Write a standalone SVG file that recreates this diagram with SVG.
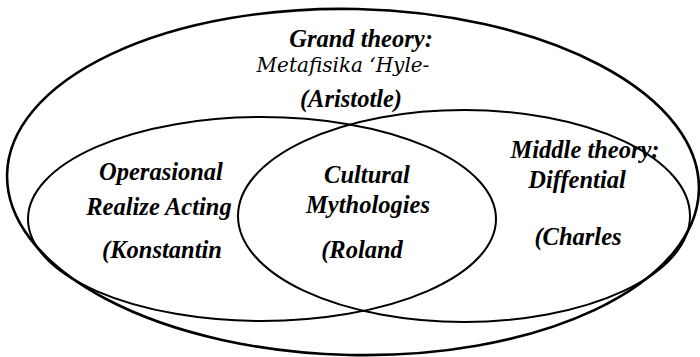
<svg xmlns="http://www.w3.org/2000/svg" width="700" height="357" viewBox="0 0 700 357">
  <rect width="700" height="357" fill="#fff"/>

  <g id="connectors">
    <!-- no connectors in this diagram; the ellipses nest and overlap -->
  </g>

  <!-- Grand theory: the enclosing ellipse -->
  <g id="grand-theory">
    <ellipse fill="none" stroke="#000" stroke-width="2.6" cx="353" cy="182" rx="346" ry="173" transform="rotate(1.3 353 182)"/>
    <text font-family="Liberation Serif" font-weight="bold" font-style="italic" font-size="24.5" text-anchor="middle" x="361" y="47">Grand theory:</text>
    <text font-family="DejaVu Serif" font-style="italic" font-size="20" text-anchor="middle" x="343" y="72">Metafisika ‘Hyle-</text>
    <text font-family="Liberation Serif" font-weight="bold" font-style="italic" font-size="24.5" text-anchor="middle" x="351" y="107">(Aristotle)</text>
  </g>

  <!-- Operational theory: left ellipse -->
  <g id="operational">
    <ellipse fill="none" stroke="#000" stroke-width="2" cx="262" cy="219" rx="234" ry="102"/>
    <text font-family="Liberation Serif" font-weight="bold" font-style="italic" font-size="24.5" text-anchor="middle" x="161" y="180">Operasional</text>
    <text font-family="Liberation Serif" font-weight="bold" font-style="italic" font-size="24.5" text-anchor="middle" x="159" y="215">Realize Acting</text>
    <text font-family="Liberation Serif" font-weight="bold" font-style="italic" font-size="24.5" text-anchor="middle" x="162" y="258">(Konstantin</text>
  </g>

  <!-- Middle theory: right ellipse -->
  <g id="middle-theory">
    <ellipse fill="none" stroke="#000" stroke-width="2" cx="464" cy="216" rx="226" ry="106"/>
    <text font-family="Liberation Serif" font-weight="bold" font-style="italic" font-size="24.5" text-anchor="middle" x="585" y="158">Middle theory:</text>
    <text font-family="Liberation Serif" font-weight="bold" font-style="italic" font-size="24.5" text-anchor="middle" x="577" y="188">Diffential</text>
    <text font-family="Liberation Serif" font-weight="bold" font-style="italic" font-size="24.5" text-anchor="middle" x="578" y="245">(Charles</text>
  </g>

  <!-- Overlap region: Cultural Mythologies -->
  <g id="cultural-mythologies">
    <text font-family="Liberation Serif" font-weight="bold" font-style="italic" font-size="24.5" text-anchor="middle" x="367" y="183">Cultural</text>
    <text font-family="Liberation Serif" font-weight="bold" font-style="italic" font-size="24.5" text-anchor="middle" x="368" y="213">Mythologies</text>
    <text font-family="Liberation Serif" font-weight="bold" font-style="italic" font-size="24.5" text-anchor="middle" x="362" y="258">(Roland</text>
  </g>
</svg>
